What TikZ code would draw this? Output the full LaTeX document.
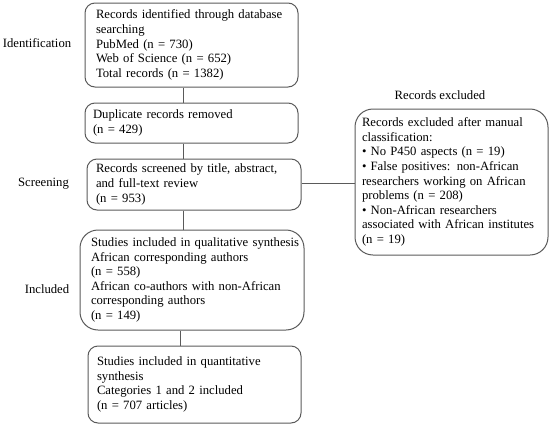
\documentclass[tikz,border=0pt]{standalone}
\usepackage{fontspec}
\setmainfont{Liberation Serif}
\definecolor{linegray}{HTML}{5A5A5A}
\newcommand{\fsz}{\fontsize{12.7}{14.6}\selectfont}
\begin{document}
\begin{tikzpicture}[x=1pt,y=-1pt,
  box/.style={draw=linegray, line width=1pt, rounded corners=10pt, align=left,
    inner ysep=0pt, font=\fsz, text=black},
  lbl/.style={font=\fsz, text=black, inner sep=0pt},
  conn/.style={draw=linegray, line width=1pt}]
\useasboundingbox (0,0) rectangle (550,429);
\node[box, inner xsep=11pt, text width=191pt, minimum height=84pt] (B1) at (191.5,45)
  {\mbox{Records identified through database}\\\mbox{searching}\\\mbox{PubMed (n = 730)}\\\mbox{Web of Science (n = 652)}\\\mbox{Total records (n = 1382)}};
\node[box, inner xsep=8pt, text width=197pt, minimum height=40pt] (B2) at (191.5,123)
  {\mbox{Duplicate records removed}\\\mbox{(n = 429)}};
\node[box, inner xsep=9pt, text width=196pt, minimum height=51pt] (B3) at (194,184.5)
  {\mbox{Records screened by title, abstract,}\\\mbox{and full-text review}\\\mbox{(n = 953)}};
\node[box, rounded corners=18pt, inner xsep=11pt, text width=202pt, minimum height=100pt] (B4) at (192,280)
  {\mbox{Studies included in qualitative synthesis}\\\mbox{African corresponding authors}\\\mbox{(n = 558)}\\\mbox{African co-authors with non-African}\\\mbox{corresponding authors}\\\mbox{(n = 149)}};
\node[box, inner xsep=9pt, text width=195pt, minimum height=77pt] (B5) at (194.5,384.5)
  {\mbox{Studies included in quantitative}\\\mbox{synthesis}\\\mbox{Categories 1 and 2 included}\\\mbox{(n = 707 articles)}};
\node[box, rounded corners=18pt, inner xsep=7pt, text width=179pt, minimum height=146pt] (B6) at (451.5,182)
  {\mbox{Records excluded after manual}\\\mbox{classification:}\\\mbox{• No P450 aspects (n = 19)}\\\mbox{• False positives: non-African}\\\mbox{researchers working on African}\\\mbox{problems (n = 208)}\\\mbox{• Non-African researchers}\\\mbox{associated with African institutes}\\\mbox{(n = 19)}};
\node[lbl] (T1) at (37,43) {Identification};
\node[lbl] (T2) at (43.5,184) {Screening};
\node[lbl] (T3) at (47,289) {Included};
\node[lbl] (T4) at (440,95) {Records excluded};
\coordinate (L) at (183,0);
\coordinate (L2) at (180,0);
\draw[conn] (L |- B1.south) -- (L |- B2.north);
\draw[conn] (L |- B2.south) -- (L |- B3.north);
\draw[conn] (L |- B3.south) -- (L |- B4.north);
\draw[conn] (L2 |- B4.south) -- (L2 |- B5.north);
\draw[conn] (B3.east |- 0,183) -- (B6.west |- 0,183);
\end{tikzpicture}
\end{document}
